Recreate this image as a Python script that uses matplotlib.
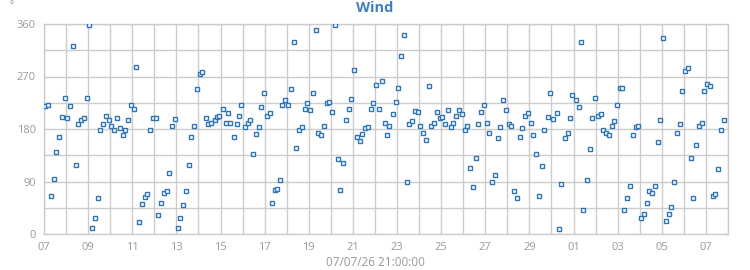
import pandas as pd
import matplotlib
matplotlib.use('Agg')
import matplotlib.pyplot as plt
import matplotlib.dates as mdates

plt.rcParams['font.family'] = ['Open Sans', 'DejaVu Sans']

# Wind direction readings, time given as days after the start date.
start = pd.Timestamp('2026-06-07')

day_offset = [
    0.05, 0.18, 0.32, 0.45, 0.55, 0.68, 0.82, 0.95, 1.05, 1.18, 1.32, 1.45,
    1.55, 1.68, 1.82, 1.95, 2.05, 2.18, 2.32, 2.45, 2.55, 2.68, 2.82, 2.95,
    3.05, 3.18, 3.32, 3.45, 3.59, 3.68, 3.82, 3.95, 4.09, 4.18, 4.32, 4.45,
    4.59, 4.68, 4.82, 4.95, 5.09, 5.18,
    5.32, 5.45, 5.59, 5.68, 5.82, 5.95, 6.09, 6.18, 6.32, 6.45, 6.59, 6.68,
    6.82, 6.95, 7.09, 7.18, 7.32, 7.45, 7.59, 7.73, 7.82, 7.95, 8.09, 8.23,
    8.32, 8.45, 8.59, 8.73, 8.82, 8.95, 9.09, 9.23, 9.32, 9.45, 9.59, 9.73,
    9.82, 9.95, 10.09, 10.23, 10.32, 10.45,
    10.55, 10.68, 10.77, 10.91, 11.05, 11.18, 11.32, 11.41, 11.55, 11.68,
    11.82, 11.91, 12.05, 12.18, 12.32, 12.41, 12.55, 12.68, 12.82, 12.91,
    13.05, 13.18, 13.32, 13.41, 13.55, 13.68, 13.82, 13.91, 14.05, 14.18,
    14.32, 14.41, 14.55, 14.68, 14.82, 14.91, 15.05, 15.18, 15.32, 15.45,
    15.55, 15.64,
    15.82, 15.95, 16.05, 16.18, 16.32, 16.45, 16.55, 16.68, 16.82, 16.95,
    17.05, 17.18, 17.32, 17.45, 17.55, 17.68, 17.82, 17.95, 18.05, 18.18,
    18.32, 18.45, 18.55, 18.68, 18.82, 18.95, 19.09, 19.18, 19.32, 19.45,
    19.59, 19.68, 19.82, 19.95, 20.09, 20.18, 20.32, 20.45, 20.59, 20.68,
    20.82,
    20.95, 21.09, 21.18, 21.32, 21.45, 21.59, 21.68, 21.82, 21.95, 22.09,
    22.18, 22.32, 22.45, 22.59, 22.68, 22.82, 22.95, 23.09, 23.23, 23.32,
    23.45, 23.59, 23.73, 23.82, 23.95, 24.09, 24.23, 24.32, 24.45, 24.59,
    24.73, 24.82, 24.95, 25.09, 25.23, 25.32, 25.45, 25.59, 25.73, 25.82,
    25.95, 26.09,
    26.18, 26.27, 26.41, 26.55, 26.68, 26.82, 26.91, 27.05, 27.18, 27.32,
    27.41, 27.55, 27.68, 27.82, 27.91, 28.05, 28.18, 28.32, 28.41, 28.55,
    28.68, 28.82, 28.91, 29.05, 29.18, 29.32, 29.41, 29.55, 29.68, 29.82,
    29.91, 30.05, 30.18, 30.32, 30.41, 30.55, 30.68, 30.82,
]

direction = [
    219, 221, 65, 95, 140, 167, 200, 234, 198, 219, 323, 119,
    188, 195, 198, 234, 358, 11, 27, 61, 178, 188, 202, 195,
    186, 179, 198, 181, 169, 178, 195, 221, 215, 286, 20, 51,
    63, 68, 179, 198, 198, 32,
    54, 70, 73, 104, 185, 197, 10, 27, 49, 73, 118, 167,
    186, 248, 275, 277, 198, 188, 191, 195, 200, 202, 215, 190,
    207, 191, 166, 188, 203, 221, 183, 190, 195, 137, 171, 183,
    217, 241, 203, 207, 53, 75,
    77, 92, 222, 229, 222, 248, 329, 147, 178, 183,
    215, 224, 212, 241, 349, 173, 169, 186, 224, 227,
    209, 359, 128, 75, 121, 195, 215, 231, 282, 167,
    159, 171, 181, 183, 214, 224, 255, 214, 262, 190,
    169, 186,
    205, 227, 250, 305, 341, 90, 188, 193, 210, 209,
    186, 174, 161, 253, 185, 190, 209, 198, 200, 188,
    212, 183, 190, 202, 212, 205, 179, 185, 114, 80,
    130, 188, 209, 221, 191, 173, 89, 101, 164, 183,
    229,
    212, 188, 185, 73, 61, 166, 181, 202, 207, 191,
    169, 137, 66, 116, 179, 200, 241, 197, 207, 8,
    85, 164, 173, 198, 239, 229, 217, 330, 41, 92,
    145, 198, 233, 202, 205, 178, 174, 169, 185, 193,
    222, 251,
    250, 42, 61, 83, 169, 183, 186, 27, 34, 54,
    73, 71, 83, 157, 195, 336, 23, 34, 46, 90,
    173, 188, 246, 279, 284, 131, 61, 152, 186, 190,
    246, 258, 253, 65, 68, 111, 179, 195,
]

y_ticks = [0, 90, 180, 270, 360]
x_label = "07/07/26 21:00:00"

times = start + pd.to_timedelta(day_offset, unit='D')

fig = plt.figure(figsize=(7.5, 2.7), dpi=100)
ax = fig.add_axes([44 / 750, 1 - 234 / 270, 684 / 750, 210 / 270])

grid_col = '#cccccc'
text_col = '#999999'

ax.plot(times, direction, 's', markersize=3, markerfacecolor='white',
        markeredgecolor='#2e75b6', markeredgewidth=1.0, zorder=3)

# Axes limits and ticks.
ax.set_xlim(start, start + pd.Timedelta(days=31))
ax.set_ylim(0, 360)
ax.set_yticks(y_ticks)
ax.set_yticks(range(45, 360, 90), minor=True)
ax.set_xticks(pd.date_range(start, periods=16, freq='2D'))
ax.xaxis.set_minor_locator(mdates.DayLocator())
ax.xaxis.set_major_formatter(mdates.DateFormatter('%d'))

ax.grid(which='both', color=grid_col, linewidth=1)
ax.set_axisbelow(True)
for loc in ax.spines:
    ax.spines[loc].set_color(grid_col)
    ax.spines[loc].set_linewidth(1)
ax.tick_params(axis='both', which='both', length=0, colors=text_col,
               labelsize=8)
ax.tick_params(axis='y', pad=6)
ax.tick_params(axis='x', pad=6)

fig.text(0.5, 262 / 270, "Wind", ha='center', va='center', fontsize=10.5,
         fontweight='bold', color='#3f7fc0')
fig.text(0.5, 1 - 262 / 270, x_label, ha='center', va='center',
         fontsize=8.5, color=text_col)
fig.text(12 / 750, 1 - 6 / 270, "°", ha='center', va='center', fontsize=7,
         color=text_col)

fig.savefig('out.png', dpi=100)
